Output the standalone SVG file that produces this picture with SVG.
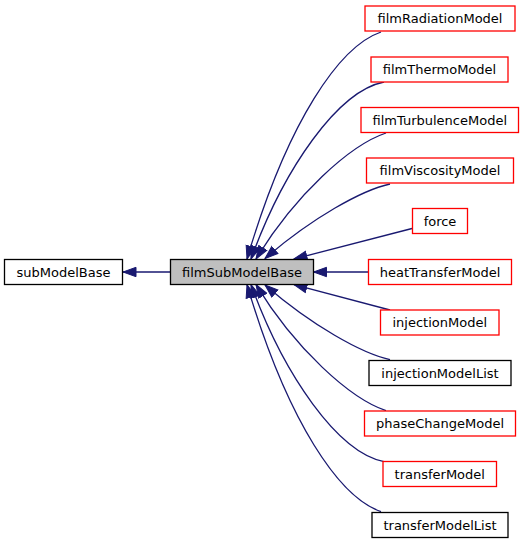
<svg xmlns="http://www.w3.org/2000/svg" width="524" height="544" viewBox="0 0 524 544">
<style>
  .node rect { fill: #ffffff; stroke: #000000; stroke-width: 1.3; }
  .node.red rect { stroke: #ff0000; }
  .node.cur rect { fill: #bfbfbf; }
  .node text { font-family: "DejaVu Sans", sans-serif; font-size: 13px; fill: #000000; text-anchor: middle; }
  .edge { fill: none; stroke: #191970; stroke-width: 1.3; marker-end: url(#arr); }
</style>
<defs>
  <marker id="arr" markerUnits="userSpaceOnUse" markerWidth="16" markerHeight="12" refX="13.5" refY="6" orient="auto">
    <path d="M0.5,1.3 L13.5,6 L0.5,10.7 Z" fill="#191970" stroke="#191970" stroke-width="1"/>
  </marker>
</defs>
<rect width="524" height="544" fill="#ffffff"/>
<g id="connectors">
  <path class="edge" d="M170,272 L123,272"/>
  <path class="edge" d="M381,32 C340,46 288,120 247,259"/>
  <path class="edge" d="M384,82 C338,91 284,168 251,259"/>
  <path class="edge" d="M386,133 C350,145 295,195 256,259"/>
  <path class="edge" d="M390,184 C362,190 312,218 265,258.5"/>
  <path class="edge" d="M412,228.5 L294,259"/>
  <path class="edge" d="M368,272 L313.5,272"/>
  <path class="edge" d="M390,310 L294,284.6"/>
  <path class="edge" d="M390,359.6 C362,353.6 312,325.6 265,285"/>
  <path class="edge" d="M386,410.6 C350,398.6 295,348.6 256,284.6"/>
  <path class="edge" d="M384,461.6 C338,452.6 284,375.6 251,284.6"/>
  <path class="edge" d="M381,511.6 C340,497.6 288,423.6 247,284.6"/>
</g>
<g id="subModelBase" class="node"><rect x="4.5" y="259.5" width="118" height="25"/><text x="63.5" y="276.5">subModelBase</text></g>
<g id="filmSubModelBase" class="node cur"><rect x="170.5" y="259.5" width="143" height="25"/><text x="242" y="276.5">filmSubModelBase</text></g>
<g id="filmRadiationModel" class="node red"><rect x="365" y="6" width="150" height="25"/><text x="440" y="23">filmRadiationModel</text></g>
<g id="filmThermoModel" class="node red"><rect x="371" y="57" width="137" height="25"/><text x="439.5" y="74">filmThermoModel</text></g>
<g id="filmTurbulenceModel" class="node red"><rect x="361" y="107.5" width="157.5" height="25"/><text x="439.75" y="124.5">filmTurbulenceModel</text></g>
<g id="filmViscosityModel" class="node red"><rect x="366.5" y="158" width="147" height="25"/><text x="440" y="175">filmViscosityModel</text></g>
<g id="force" class="node red"><rect x="412.5" y="208.5" width="55" height="25"/><text x="440" y="225.5">force</text></g>
<g id="heatTransferModel" class="node red"><rect x="368.5" y="259.5" width="143" height="25"/><text x="440" y="276.5">heatTransferModel</text></g>
<g id="injectionModel" class="node red"><rect x="380.5" y="310" width="118.5" height="25"/><text x="439.75" y="327">injectionModel</text></g>
<g id="injectionModelList" class="node"><rect x="369" y="360.5" width="142" height="25"/><text x="440" y="377.5">injectionModelList</text></g>
<g id="phaseChangeModel" class="node red"><rect x="364.5" y="411" width="151" height="25"/><text x="440" y="428">phaseChangeModel</text></g>
<g id="transferModel" class="node red"><rect x="383" y="461.5" width="113.5" height="25"/><text x="439.75" y="478.5">transferModel</text></g>
<g id="transferModelList" class="node"><rect x="372" y="512.5" width="136" height="25"/><text x="440" y="529.5">transferModelList</text></g>
</svg>
